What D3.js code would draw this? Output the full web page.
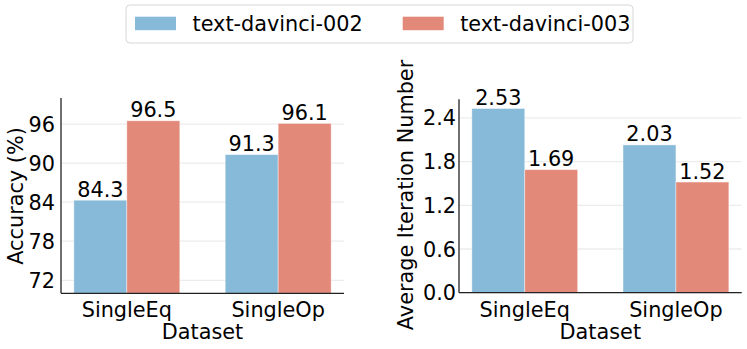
<!DOCTYPE html>
<html>
<head>
  <meta charset="utf-8">
  <script src="https://d3js.org/d3.v7.min.js"></script>
  <style>
    body { margin: 0; background: #fff; }
    text { font-family: "DejaVu Sans", sans-serif; fill: #000; }
  </style>
</head>
<body>
  <div id="chart"></div>
  <script>
    // data
    var datasets = ["SingleEq", "SingleOp"];
    var models = ["text-davinci-002", "text-davinci-003"];
    var accuracy002 = [84.3, 91.3];
    var accuracy003 = [96.5, 96.1];
    var iters002 = [2.53, 2.03];
    var iters003 = [1.69, 1.52];
    var accTicks = [72, 78, 84, 90, 96];
    var iterTicks = [0.0, 0.6, 1.2, 1.8, 2.4];
    var colors = ["#87bad8", "#e3897a"];

    var W = 747, H = 349, fs = 20.8;
    var svg = d3.select("#chart").append("svg").attr("width", W).attr("height", H);

    function panel(opt) {
      var g = svg.append("g");
      var x = d3.scaleLinear().domain([-0.435, 1.435]).range([opt.left, opt.right]);
      var y = d3.scaleLinear().domain(opt.domain).range([opt.bottom, opt.top]);
      var bw = 0.35;

      // grid
      g.selectAll(".grid").data(opt.ticks).enter().append("line")
        .attr("x1", opt.left).attr("x2", opt.right)
        .attr("y1", function (d) { return y(d); }).attr("y2", function (d) { return y(d); })
        .attr("stroke", "#ececec").attr("stroke-width", 1.3);

      var series = [opt.a, opt.b];
      series.forEach(function (vals, s) {
        var off = s == 0 ? -bw : 0;
        g.selectAll(".bar" + s).data(vals).enter().append("rect")
          .attr("x", function (d, i) { return x(i + off); })
          .attr("width", x(bw) - x(0))
          .attr("y", function (d) { return y(d); })
          .attr("height", function (d) { return opt.bottom - y(d); })
          .attr("fill", colors[s])
          .attr("stroke", "#fff").attr("stroke-opacity", 0.5).attr("stroke-width", 0.8);
        g.selectAll(".lab" + s).data(vals).enter().append("text")
          .attr("x", function (d, i) { return x(i + off + bw / 2); })
          .attr("y", function (d) { return y(d) - 3.5; })
          .attr("text-anchor", "middle")
          .style("font-size", fs + "px")
          .text(function (d) { return opt.fmt(d); });
      });

      // spines
      g.append("line").attr("x1", opt.left).attr("x2", opt.left)
        .attr("y1", opt.top).attr("y2", opt.bottom).attr("stroke", "#222").attr("stroke-width", 1.3);
      g.append("line").attr("x1", opt.left).attr("x2", opt.right)
        .attr("y1", opt.bottom).attr("y2", opt.bottom).attr("stroke", "#222").attr("stroke-width", 1.3);

      // y tick labels
      g.selectAll(".yt").data(opt.ticks).enter().append("text")
        .attr("x", opt.left - opt.pad)
        .attr("y", function (d) { return y(d); })
        .attr("dy", "0.36em")
        .attr("text-anchor", "end")
        .style("font-size", fs + "px")
        .text(function (d) { return opt.tickFmt(d); });

      // x tick labels
      g.selectAll(".xt").data(datasets).enter().append("text")
        .attr("x", function (d, i) { return x(i); })
        .attr("y", 316.5)
        .attr("text-anchor", "middle")
        .style("font-size", fs + "px")
        .text(function (d) { return d; });

      g.append("text")
        .attr("x", (opt.left + opt.right) / 2).attr("y", 338.5)
        .attr("text-anchor", "middle")
        .style("font-size", fs + "px")
        .text("Dataset");

      g.append("text")
        .attr("transform", "translate(" + opt.ylx + "," + opt.yly + ") rotate(-90)")
        .attr("text-anchor", "middle")
        .attr("dy", "0.36em")
        .style("font-size", fs + "px")
        .text(opt.ylabel);
    }

    panel({
      left: 61, right: 344, top: 98, bottom: 293.3,
      domain: [70, 100], ticks: accTicks, a: accuracy002, b: accuracy003,
      fmt: d3.format(".1f"), tickFmt: d3.format("d"), pad: 6,
      ylabel: "Accuracy (%)", ylx: 15.5, yly: 196
    });
    panel({
      left: 459, right: 741.7, top: 99.3, bottom: 292.7,
      domain: [0, 2.6565], ticks: iterTicks, a: iters002, b: iters003,
      fmt: d3.format(".2f"), tickFmt: d3.format(".1f"), pad: 3,
      ylabel: "Average Iteration Number", ylx: 405, yly: 195
    });

    // legend
    var lg = svg.append("g");
    lg.append("rect").attr("x", 126).attr("y", 5).attr("width", 507).attr("height", 38)
      .attr("rx", 4).attr("fill", "#fff").attr("stroke", "#d6d6d6").attr("stroke-width", 1);
    var lx = [135, 402.7];
    models.forEach(function (m, i) {
      lg.append("rect").attr("x", lx[i]).attr("y", 16.7).attr("width", 41).attr("height", 13.5)
        .attr("fill", colors[i]);
      lg.append("text").attr("x", lx[i] + 57.5).attr("y", 24).attr("dy", "0.36em")
        .style("font-size", fs + "px").text(m);
    });
  </script>
</body>
</html>
